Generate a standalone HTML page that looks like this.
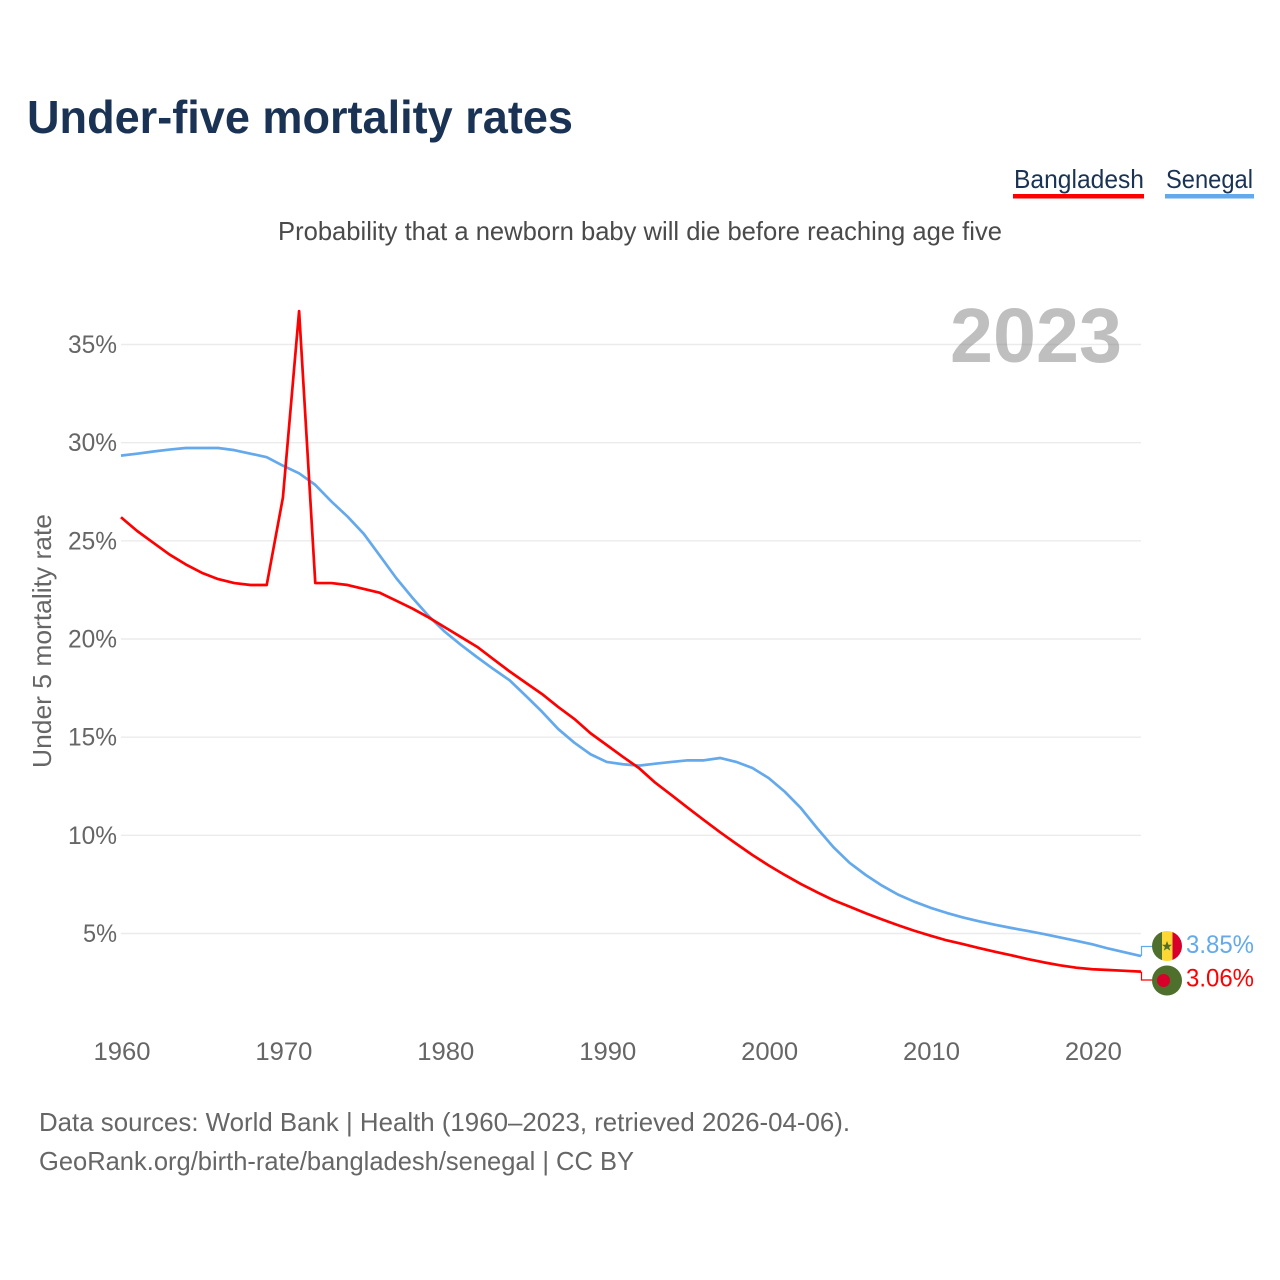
<!DOCTYPE html>
<html lang="en">
<head>
<meta charset="utf-8">
<title>Under-five mortality rates</title>
<style>
  html, body { margin: 0; padding: 0; background: #ffffff; }
  svg { display: block; }
  text { font-family: "Liberation Sans", sans-serif; }
</style>
</head>
<body>
<svg id="chart" xmlns="http://www.w3.org/2000/svg" width="1280" height="1280" viewBox="0 0 1280 1280">
  <rect x="0" y="0" width="1280" height="1280" fill="#ffffff"/>
  <text x="27" y="133" font-size="46" font-weight="700" fill="#1a3354" textLength="546" lengthAdjust="spacingAndGlyphs">Under-five mortality rates</text>

  <g>
    <text x="1014" y="188" font-size="26" fill="#1a3354" textLength="130" lengthAdjust="spacingAndGlyphs">Bangladesh</text>
    <rect x="1013" y="194" width="131" height="4.5" fill="#ff0000"/>
  </g>
  <g>
    <text x="1166" y="188" font-size="26" fill="#1a3354" textLength="87" lengthAdjust="spacingAndGlyphs">Senegal</text>
    <rect x="1165" y="194" width="89" height="4.5" fill="#63a9ec"/>
  </g>

  <text x="278" y="240" font-size="26" fill="#4a4a4a" textLength="724" lengthAdjust="spacingAndGlyphs">Probability that a newborn baby will die before reaching age five</text>
  <text transform="translate(51 768) rotate(-90)" x="0" y="0" font-size="26" fill="#666666" textLength="254" lengthAdjust="spacingAndGlyphs">Under 5 mortality rate</text>

  <g id="grid"></g>
  <g id="yticks"></g>
  <g id="xticks"></g>

  <text x="1122" y="362" text-anchor="end" font-size="77" font-weight="700" fill="#808080" fill-opacity="0.5" textLength="172" lengthAdjust="spacingAndGlyphs">2023</text>

  <g id="series"></g>

  <g>
    <clipPath id="clip-sn"><circle cx="1167" cy="946" r="15"/></clipPath>
    <g clip-path="url(#clip-sn)">
      <rect x="1152" y="931" width="10" height="30" fill="#4f6f2c"/>
      <rect x="1162" y="931" width="10.5" height="30" fill="#fdd835"/>
      <rect x="1172.5" y="931" width="10" height="30" fill="#d8002a"/>
    </g>
    <polygon points="1167,941 1168.4,944.7 1172,944.7 1169.1,947 1170.2,950.6 1167,948.5 1163.8,950.6 1164.9,947 1162,944.7 1165.6,944.7" fill="#4f6f2c"/>
  </g>
  <g>
    <circle cx="1167" cy="980.5" r="15" fill="#4f6f2c"/>
    <circle cx="1163.5" cy="980.5" r="6.5" fill="#d8002a"/>
  </g>

  <text x="39" y="1131" font-size="26" fill="#666666" textLength="811" lengthAdjust="spacingAndGlyphs">Data sources: World Bank | Health (1960–2023, retrieved 2026-04-06).</text>
  <text x="39" y="1170" font-size="26" fill="#666666" textLength="595" lengthAdjust="spacingAndGlyphs">GeoRank.org/birth-rate/bangladesh/senegal | CC BY</text>
</svg>
<script>
const startYear = 1960;
const bangladeshValues = [
  26.2, 25.5, 24.9, 24.3, 23.8, 23.37, 23.05, 22.85, 22.75, 22.75,
  27.2, 36.7, 22.85, 22.85, 22.75, 22.55, 22.35, 21.95, 21.55, 21.1,
  20.6, 20.1, 19.6, 18.97, 18.35, 17.77, 17.2, 16.54, 15.93, 15.2,
  14.6, 14.0, 13.42, 12.68, 12.05, 11.41, 10.78, 10.16, 9.57, 9.0,
  8.47, 7.98, 7.52, 7.1, 6.7, 6.37, 6.03, 5.72, 5.42, 5.14,
  4.89, 4.65, 4.46, 4.26, 4.07, 3.89, 3.7, 3.53, 3.38, 3.26,
  3.18, 3.14, 3.1, 3.06
];
const senegalValues = [
  29.34, 29.44, 29.55, 29.65, 29.73, 29.73, 29.73, 29.62, 29.44, 29.26,
  28.83, 28.44, 27.85, 27.0, 26.23, 25.35, 24.23, 23.1, 22.1, 21.17,
  20.37, 19.7, 19.07, 18.47, 17.9, 17.11, 16.3, 15.42, 14.72, 14.13,
  13.74, 13.62, 13.55, 13.65, 13.74, 13.82, 13.82, 13.94, 13.74, 13.43,
  12.92, 12.22, 11.38, 10.36, 9.4, 8.6, 7.98, 7.44, 6.98, 6.62,
  6.31, 6.05, 5.82, 5.62, 5.44, 5.28, 5.13, 4.97, 4.8, 4.63,
  4.45, 4.23, 4.04, 3.85
];
const yTickValues = [5, 10, 15, 20, 25, 30, 35];
const xTickValues = [1960, 1970, 1980, 1990, 2000, 2010, 2020];

const SVG_NS = 'http://www.w3.org/2000/svg';
function xScale(year) { return 121 + (year - 1960) * (1141 - 121) / 63; }
function yScale(pct) { return 933.5 - (pct - 5) * 19.633; }

function make(tag, parent, attrs, content) {
  const el = document.createElementNS(SVG_NS, tag);
  for (const k in attrs) el.setAttribute(k, attrs[k]);
  if (content !== undefined) el.textContent = content;
  parent.appendChild(el);
  return el;
}

const gridGroup = document.getElementById('grid');
const yTickGroup = document.getElementById('yticks');
const xTickGroup = document.getElementById('xticks');
const seriesGroup = document.getElementById('series');

yTickValues.forEach(function (v) {
  const line = make('line', gridGroup, { x1: 121, x2: 1141, y1: yScale(v), y2: yScale(v), stroke: '#ebebeb', 'stroke-width': 1.4 });
  
  
  const label = make('text', yTickGroup, { x: 117, y: yScale(v) + 8.5, 'text-anchor': 'end', 'font-size': 25, fill: '#666666', textLength: v === 5 ? 34 : 49, lengthAdjust: 'spacingAndGlyphs' }, v + '%');
  
  
});

xTickValues.forEach(function (yr) {
  const label = make('text', xTickGroup, { x: xScale(yr) + 1, y: 1060, 'text-anchor': 'middle', 'font-size': 25, fill: '#666666', textLength: 57, lengthAdjust: 'spacingAndGlyphs' }, String(yr));
  
  
});

function linePoints(values) {
  return values.map(function (v, i) {
    return xScale(startYear + i).toFixed(2) + ',' + yScale(v).toFixed(2);
  }).join(' ');
}

const senegalLine = make('polyline', seriesGroup, { points: linePoints(senegalValues), fill: 'none', stroke: '#63a9ec', 'stroke-width': 2.7, 'stroke-linejoin': 'round' });



const bangladeshLine = make('polyline', seriesGroup, { points: linePoints(bangladeshValues), fill: 'none', stroke: '#ff0000', 'stroke-width': 2.7, 'stroke-linejoin': 'round' });



const senegalLast = senegalValues[senegalValues.length - 1];
const bangladeshLast = bangladeshValues[bangladeshValues.length - 1];

const senegalConnector = make('polyline', seriesGroup, { points: '1141.5,' + yScale(senegalLast) + ' 1141.5,946.5 1153,946.5', fill: 'none', stroke: '#63a9ec', 'stroke-width': 1.2 });



const bangladeshConnector = make('polyline', seriesGroup, { points: '1141.5,' + yScale(bangladeshLast) + ' 1141.5,980 1153,980', fill: 'none', stroke: '#ff0000', 'stroke-width': 1.2 });



const senegalValueLabel = make('text', seriesGroup, { x: 1186, y: 953, 'font-size': 25, fill: '#63a9ec', textLength: 68, lengthAdjust: 'spacingAndGlyphs' }, senegalLast.toFixed(2) + '%');



const bangladeshValueLabel = make('text', seriesGroup, { x: 1186, y: 986.5, 'font-size': 25, fill: '#ff0000', textLength: 68, lengthAdjust: 'spacingAndGlyphs' }, bangladeshLast.toFixed(2) + '%');


</script>
</body>
</html>
